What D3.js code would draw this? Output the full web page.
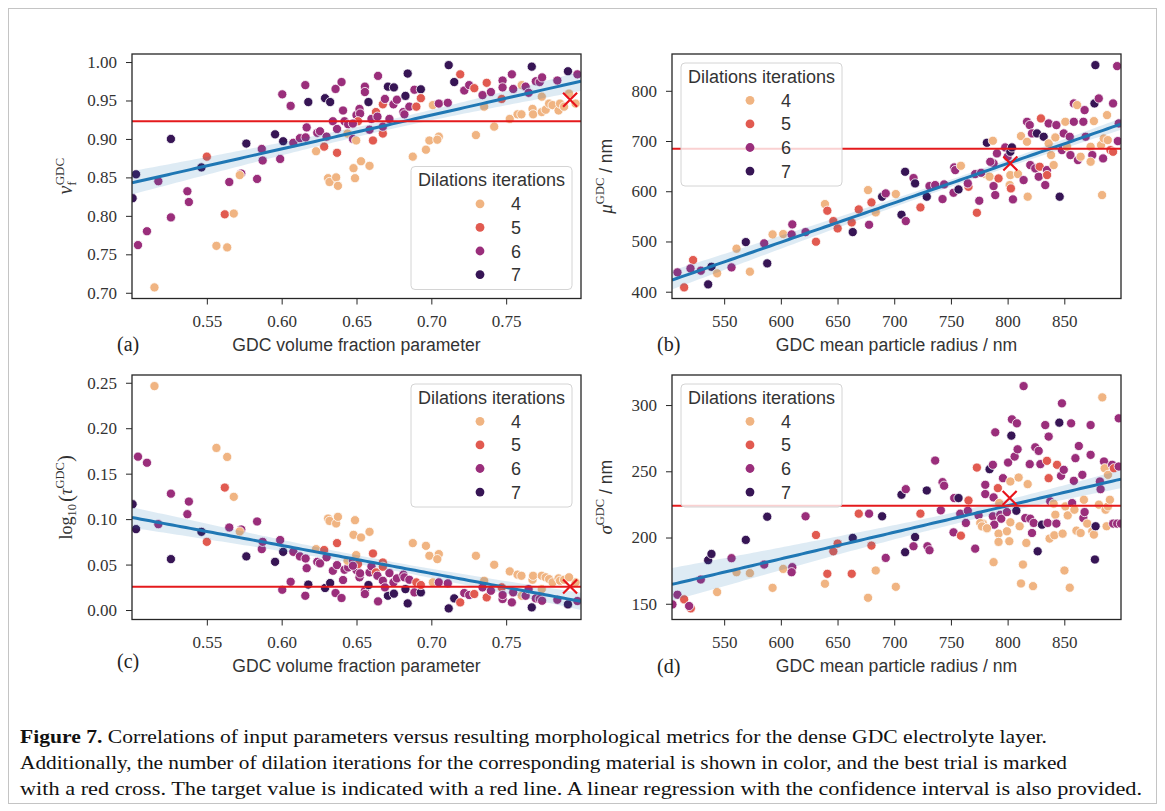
<!DOCTYPE html>
<html>
<head>
<meta charset="utf-8">
<script src="https://cdn.jsdelivr.net/npm/d3@7"></script>
<style>
  body { margin: 0; background: #fff; }
  svg { display: block; }
  .tick text { font-family: "Liberation Serif", serif; font-size: 17px; fill: #333; }
  .tick line { stroke: #262626; stroke-width: 1; }
  .sans { font-family: "Liberation Sans", sans-serif; }
</style>
</head>
<body>
<svg id="fig" width="1165" height="811"></svg>
<script>
// ---- data ----
const iterations = [4, 5, 6, 7];
const iterColors = ["#f0b482", "#e15a50", "#9a2e7b", "#371555"];

// (a) volume fraction parameter vs v_f^GDC  [x, y, dilations]
const panelA = [
  [0.5027,0.854,7],[0.5004,0.823,7],[0.5176,0.845,6],[0.504,0.762,6],[0.510,0.780,6],[0.515,0.707,4],[0.526,0.900,7],[0.526,0.798,6],
  [0.537,0.832,6],[0.538,0.818,6],[0.5464,0.863,7],[0.550,0.877,5],[0.562,0.802,5],[0.568,0.803,4],[0.5564,0.761,4],[0.5636,0.759,4],
  [0.565,0.844,6],[0.573,0.855,6],[0.572,0.853,4],[0.5764,0.894,7],[0.5836,0.848,6],[0.5867,0.887,6],[0.5873,0.872,6],[0.5956,0.906,7],
  [0.599,0.874,6],[0.601,0.897,7],[0.6004,0.958,6],[0.606,0.943,6],[0.6078,0.895,6],[0.6122,0.901,6],[0.616,0.902,6],[0.6167,0.915,6],
  [0.6178,0.948,7],[0.6158,0.970,6],[0.623,0.884,4],[0.6238,0.908,6],[0.6256,0.910,6],[0.6284,0.890,5],[0.630,0.903,6],[0.629,0.953,7],
  [0.6324,0.948,7],[0.631,0.849,4],[0.632,0.844,4],[0.6364,0.850,4],[0.6376,0.839,4],[0.637,0.882,5],[0.636,0.965,6],[0.640,0.974,6],
  [0.6342,0.923,6],[0.637,0.913,6],[0.641,0.937,6],[0.642,0.923,6],[0.6444,0.919,6],[0.644,0.907,4],[0.6476,0.900,6],[0.6498,0.898,4],
  [0.648,0.862,4],[0.649,0.849,4],[0.653,0.871,4],[0.6587,0.865,4],[0.650,0.931,6],[0.652,0.939,6],[0.6524,0.933,6],[0.6556,0.968,6],
  [0.6556,0.961,6],[0.658,0.948,7],[0.651,0.923,5],[0.6476,0.920,6],[0.6587,0.912,6],[0.661,0.898,5],[0.660,0.926,6],[0.663,0.935,5],
  [0.664,0.929,6],[0.6644,0.982,6],[0.6676,0.945,5],[0.6676,0.907,5],[0.6676,0.916,6],[0.671,0.968,7],[0.675,0.967,7],[0.669,0.952,6],
  [0.6747,0.945,6],[0.672,0.926,6],[0.677,0.951,6],[0.6813,0.935,6],[0.682,0.932,6],[0.6842,0.985,7],[0.6827,0.956,7],[0.6853,0.942,6],
  [0.6876,0.877,4],[0.6887,0.964,6],[0.690,0.942,5],[0.693,0.9645,7],[0.693,0.953,5],[0.6964,0.886,4],[0.6987,0.898,4],[0.705,0.903,4],
  [0.704,0.899,4],[0.701,0.944,4],[0.705,0.946,6],[0.711,0.947,6],[0.7116,0.996,7],[0.7153,0.974,7],[0.7193,0.984,5],[0.722,0.963,6],
  [0.7253,0.970,6],[0.7287,0.966,5],[0.7298,0.905,4],[0.7353,0.942,4],[0.7342,0.957,6],[0.737,0.973,5],[0.7398,0.961,6],[0.742,0.916,4],
  [0.747,0.952,5],[0.7476,0.976,6],[0.7476,0.967,6],[0.7538,0.984,6],[0.7547,0.965,6],[0.7524,0.926,4],[0.7576,0.932,4],[0.7602,0.932,4],
  [0.7604,0.970,4],[0.763,0.968,6],[0.765,0.960,6],[0.7671,0.994,7],[0.7676,0.939,4],[0.768,0.932,4],[0.7698,0.975,6],[0.7724,0.974,6],
  [0.774,0.980,6],[0.7738,0.955,4],[0.7738,0.935,4],[0.7764,0.938,4],[0.7787,0.946,4],[0.781,0.944,4],[0.7842,0.976,6],[0.785,0.937,4],
  [0.786,0.946,4],[0.7887,0.942,4],[0.7913,0.988,7],[0.7976,0.984,6],[0.7964,0.946,4],[0.792,0.959,4]
];

// (b) mean particle radius vs mu^GDC
const panelB = [
  [508.8,438.5,6],[514.7,408.6,5],[522.6,463.0,5],[520.3,446.4,6],[529.4,441.8,6],[535.9,414.6,7],[538.8,449.7,7],[543.8,436.5,4],
  [556.5,448.4,6],[560.9,485.6,4],[569.1,498.8,7],[572.7,439.8,4],[585.3,496.2,6],[588.0,456.4,7],[592.7,514.1,4],[602.1,514.8,4],
  [610.1,534.0,6],[609.5,514.1,6],[621.8,518.7,6],[631.0,499.5,5],[638.9,574.5,4],[641.0,561.2,5],[646.3,540.6,5],[650.1,526.0,5],
  [662.5,537.9,5],[663.4,518.7,7],[668.7,563.8,5],[676.9,602.3,4],[677.8,533.3,6],[679.9,577.8,5],[683.7,557.9,4],[689.3,589.1,7],
  [692.5,595.7,6],[701.4,594.4,4],[706.4,553.2,7],[709.6,638.8,7],[710.2,540.6,6],[717.0,626.2,6],[718.4,615.6,7],[723.1,567.8,5],
  [728.7,589.1,7],[731.1,610.3,6],[736.1,612.3,6],[742.6,584.4,6],[744.0,613.6,6],[752.3,597.0,6],[752.9,647.4,6],[753.8,642.1,6],
  [756.7,603.6,7],[758.8,650.7,4],[765.5,608.9,5],[764.9,615.6,6],[772.9,557.2,5],[775.0,581.1,6],[771.4,634.2,6],[781.7,696.5,7],
  [787.0,700.5,4],[780.3,634.2,4],[784.1,628.9,4],[787.6,610.3,6],[789.1,592.4,6],[792.0,625.5,5],[787.6,655.4,6],[790.6,675.3,6],
  [797.9,687.2,6],[800.0,668.7,6],[802.4,678.6,7],[803.8,687.2,7],[802.4,632.2,4],[801.8,612.3,4],[802.9,605.6,5],[804.7,583.8,6],
  [809.1,634.2,4],[814.1,622.2,6],[817.7,589.1,4],[811.8,709.8,4],[817.1,738.3,6],[819.5,731.7,6],[821.5,715.1,6],[817.1,698.5,4],
  [820.0,652.1,6],[824.4,645.4,6],[827.4,628.9,6],[828.3,648.8,5],[825.9,715.1,7],[829.4,744.9,5],[831.8,708.5,7],[833.2,612.3,6],
  [834.7,642.1,6],[836.2,735.0,6],[836.2,695.2,4],[838.3,672.0,4],[840.6,652.1,4],[843.0,731.7,6],[842.1,707.1,4],[845.9,589.1,7],
  [847.9,681.9,6],[849.5,715.1,6],[850.9,738.3,4],[852.4,688.6,4],[854.8,708.5,6],[855.4,672.0,6],[858.4,774.8,6],[861.3,771.5,4],
  [858.4,738.3,6],[862.0,662.0,6],[864.4,668.7,4],[866.8,738.3,6],[867.9,761.5,6],[868.8,708.5,6],[873.2,688.6,4],[874.7,672.0,6],
  [873.2,658.7,4],[876.1,739.6,4],[876.6,774.8,7],[877.4,851.1,7],[880.4,784.7,6],[882.4,691.9,4],[883.3,592.4,4],[884.2,665.3,6],
  [884.8,705.1,4],[887.7,751.6,4],[888.3,701.8,4],[890.7,681.9,5],[893.0,774.8,6],[896.6,849.1,6],[897.2,699.8,6],[898.0,735.0,6],
  [893.0,678.6,5],[776.6,636.8,6],[784.7,658.6,6],[834.8,632.2,5]
];

// (c) volume fraction parameter vs log10(tau^GDC)
const panelC = [
  [0.5027,0.089,7],[0.5004,0.1164,7],[0.5176,0.0944,6],[0.504,0.1687,6],[0.510,0.162,6],[0.515,0.2463,4],[0.526,0.056,7],[0.526,0.128,6],
  [0.537,0.1054,6],[0.538,0.1193,6],[0.5464,0.086,7],[0.550,0.075,5],[0.562,0.1347,5],[0.568,0.1245,4],[0.5564,0.1783,4],[0.5636,0.1684,4],
  [0.565,0.0908,6],[0.573,0.0886,6],[0.572,0.0864,4],[0.5764,0.059,7],[0.5836,0.0974,6],[0.5867,0.067,6],[0.5873,0.075,6],[0.5956,0.053,7],
  [0.599,0.077,6],[0.601,0.064,7],[0.6004,0.0223,6],[0.606,0.031,6],[0.6078,0.064,6],[0.6122,0.059,6],[0.616,0.0567,6],[0.6167,0.046,6],
  [0.6178,0.028,7],[0.6158,0.0157,6],[0.623,0.067,4],[0.6238,0.053,6],[0.6256,0.0513,6],[0.6284,0.066,5],[0.630,0.058,6],[0.629,0.0242,7],
  [0.6324,0.0297,7],[0.631,0.1006,4],[0.632,0.098,4],[0.6364,0.0952,4],[0.6376,0.1025,4],[0.637,0.0736,5],[0.636,0.0187,6],[0.640,0.0132,6],
  [0.6342,0.0432,6],[0.637,0.0494,6],[0.641,0.033,6],[0.642,0.0443,6],[0.6444,0.0468,6],[0.644,0.0542,4],[0.6476,0.0542,6],[0.6498,0.0604,4],
  [0.648,0.0827,4],[0.649,0.0988,4],[0.653,0.0798,4],[0.6587,0.086,4],[0.650,0.044,6],[0.652,0.036,6],[0.6524,0.0403,6],[0.6556,0.0212,6],
  [0.6556,0.0176,6],[0.658,0.0275,7],[0.651,0.0505,5],[0.6476,0.0487,6],[0.6587,0.0414,6],[0.661,0.0622,5],[0.660,0.048,6],[0.663,0.0414,5],
  [0.664,0.0377,6],[0.6644,0.0095,6],[0.6676,0.0523,5],[0.6676,0.0476,5],[0.6676,0.0322,6],[0.671,0.0157,7],[0.675,0.018,7],[0.669,0.0249,6],
  [0.6747,0.0304,6],[0.672,0.0406,6],[0.677,0.0348,6],[0.6813,0.0389,6],[0.682,0.036,6],[0.6842,0.0073,7],[0.6827,0.023,7],[0.6853,0.0333,6],
  [0.6876,0.0736,4],[0.6887,0.0194,6],[0.690,0.0304,5],[0.693,0.0194,7],[0.693,0.0275,5],[0.6964,0.0706,4],[0.6987,0.0597,4],[0.705,0.0615,4],
  [0.704,0.056,4],[0.701,0.0304,4],[0.705,0.0304,6],[0.711,0.0293,6],[0.7116,0.0018,7],[0.7153,0.0128,7],[0.7193,0.0084,5],[0.722,0.0187,6],
  [0.7253,0.0165,6],[0.7287,0.0176,5],[0.7298,0.0597,4],[0.7353,0.0322,4],[0.7342,0.0249,6],[0.737,0.0139,5],[0.7398,0.0212,6],[0.742,0.0498,4],
  [0.747,0.0249,5],[0.7476,0.0121,6],[0.7476,0.0165,6],[0.7538,0.0084,6],[0.7547,0.0194,6],[0.7524,0.0425,4],[0.7576,0.0389,4],[0.7602,0.0377,4],
  [0.7604,0.0157,4],[0.763,0.0157,6],[0.765,0.023,6],[0.7671,0.0029,7],[0.7676,0.0333,4],[0.768,0.0377,4],[0.7698,0.0128,6],[0.7724,0.0121,6],
  [0.774,0.0102,6],[0.7738,0.023,4],[0.7738,0.0377,4],[0.7764,0.036,4],[0.7787,0.034,4],[0.781,0.0304,4],[0.7842,0.0113,6],[0.785,0.0348,4],
  [0.786,0.0322,4],[0.7887,0.0333,4],[0.7913,0.0062,7],[0.7976,0.0099,6],[0.7964,0.0304,4],[0.792,0.036,4]
];

// (d) mean particle radius vs sigma^GDC
const panelD = [
  [504.4,149.5,6],[508.8,156.8,6],[514.7,153.3,5],[520.6,146.5,5],[519.1,148.3,6],[529.4,168.3,6],[535.9,182.9,7],[538.8,187.6,7],
  [543.8,158.8,4],[556.5,184.4,6],[560.9,173.8,4],[569.1,198.2,7],[572.7,173.1,4],[585.3,179.6,6],[588.0,215.7,7],[592.7,162.0,4],
  [602.1,176.3,4],[610.1,177.6,6],[609.5,173.8,6],[621.8,216.0,6],[631.0,201.9,5],[638.9,165.1,4],[641.0,172.6,5],[646.3,189.6,5],
  [650.1,195.4,5],[662.5,172.6,5],[663.4,199.7,7],[668.7,218.0,5],[676.9,154.5,4],[677.8,218.0,6],[679.9,193.9,5],[683.7,175.1,4],
  [689.3,216.0,7],[692.5,184.6,6],[701.4,162.8,4],[706.4,232.3,7],[709.6,188.9,7],[710.2,236.5,6],[717.0,193.4,6],[718.4,200.4,7],
  [723.1,218.0,5],[728.7,235.5,7],[729.3,193.4,6],[731.1,190.4,6],[736.1,258.1,6],[742.6,241.8,6],[744.0,239.1,6],[741.1,220.5,6],
  [752.3,203.9,6],[752.9,229.8,6],[756.7,229.8,7],[758.8,201.4,5],[758.2,218.0,6],[765.5,228.0,5],[764.9,220.2,6],[763.2,211.0,6],
  [772.9,252.8,5],[771.4,191.6,6],[774.4,216.7,6],[784.1,251.6,7],[787.0,254.9,6],[789.1,279.4,6],[780.3,239.8,6],[780.3,232.8,6],
  [778.2,210.5,4],[781.7,206.7,4],[787.6,181.4,4],[787.6,230.3,6],[787.0,216.0,6],[788.2,209.7,6],[791.4,237.3,5],[792.6,226.0,4],
  [793.5,217.2,6],[792.0,202.9,4],[792.0,196.7,4],[794.4,214.2,6],[795.9,244.8,6],[799.4,219.2,6],[799.4,204.7,4],[800.4,256.6,6],
  [801.5,197.2,4],[802.4,211.5,4],[803.3,276.9,7],[803.8,289.2,6],[802.4,242.3,4],[806.2,261.1,6],[807.7,220.2,7],[808.8,266.6,6],
  [808.2,286.2,6],[809.7,245.3,4],[810.6,208.5,4],[811.8,165.3,4],[813.5,179.6,4],[814.1,314.3,6],[815.6,214.7,6],[816.5,195.9,4],
  [817.7,240.3,4],[819.5,255.4,6],[820.0,214.2,6],[821.5,203.4,6],[822.4,163.3,4],[823.0,211.0,6],[824.4,268.1,6],[826.5,189.6,7],
  [827.4,265.4,6],[828.9,255.4,6],[830.3,209.7,7],[833.2,284.9,6],[834.7,257.9,5],[836.2,276.2,6],[836.2,244.8,5],[835.3,211.0,6],
  [837.0,199.2,4],[837.6,227.3,6],[840.6,225.5,4],[841.2,201.7,4],[842.1,217.2,4],[843.0,210.5,6],[843.6,254.9,5],[847.1,246.6,6],
  [845.6,286.7,7],[847.9,301.3,6],[848.5,202.9,4],[849.5,251.1,6],[850.1,175.1,4],[850.9,223.5,4],[853.0,216.7,4],[854.8,162.1,4],
  [856.0,286.2,6],[856.9,226.0,6],[858.4,242.8,6],[858.9,221.0,4],[859.8,259.9,6],[860.7,205.2,4],[862.8,269.1,6],[864.4,203.4,4],
  [865.9,247.3,6],[866.8,214.7,6],[867.3,228.5,4],[867.9,219.2,6],[870.2,210.5,4],[873.2,284.9,6],[873.2,262.4,6],[874.7,204.7,4],
  [876.1,202.2,4],[877.0,183.4,7],[877.6,208.5,7],[880.5,224.8,4],[881.4,242.3,6],[882.0,236.5,6],[883.5,305.8,4],[885.0,257.4,6],
  [885.6,252.3,4],[886.4,221.0,4],[887.3,208.5,4],[888.5,223.5,4],[888.5,247.3,4],[890.2,228.5,4],[892.2,254.9,6],[893.7,252.3,5],
  [893.1,210.5,6],[896.6,210.5,6],[898.0,290.0,6],[898.0,253.6,6],[900.0,210.5,6],[775.9,210.9,4],[777.4,208.4,4],[781.8,207.0,4]
];

// best trial (red cross) and target value (red line)
const bestA = [0.7927, 0.951], bestB = [802.4, 655.4], bestC = [0.7927, 0.0258], bestD = [801.8, 229.8];
const targetA = 0.923, targetB = 684.6, targetC = 0.0256, targetD = 224.0;

// fitted regression line, value at the left and right end of the x range
const regA = [0.843, 0.975], regB = [423.2, 733.7], regC = [0.1018, 0.0095], regD = [164.6, 244.1];

const fracTicks = [0.55, 0.60, 0.65, 0.70, 0.75];
const radiusTicks = [550, 600, 650, 700, 750, 800, 850];
const yTicksA = [0.70, 0.75, 0.80, 0.85, 0.90, 0.95, 1.00];
const yTicksB = [400, 500, 600, 700, 800];
const yTicksC = [0.00, 0.05, 0.10, 0.15, 0.20, 0.25];
const yTicksD = [150, 200, 250, 300];

const captionLines = [
  "Correlations of input parameters versus resulting morphological metrics for the dense GDC electrolyte layer.",
  "Additionally, the number of dilation iterations for the corresponding material is shown in color, and the best trial is marked",
  "with a red cross. The target value is indicated with a red line. A linear regression with the confidence interval is also provided."
];

// ---- layout ----
const W = 449, H = 244.5;
const svg = d3.select("#fig");
const color = d3.scaleOrdinal().domain(iterations).range(iterColors);

svg.append("rect").attr("x", 8.5).attr("y", 8.5).attr("width", 1148).attr("height", 795)
  .attr("fill", "none").attr("stroke", "#c4c4c4");

const panels = [
  { id: "a", data: panelA, best: bestA, target: targetA, reg: regA, left: 132, top: 54, xDomain: [0.5, 0.8],
    xTicks: fracTicks, yTicks: yTicksA, fmt: d3.format(".2f"), xLabel: "GDC volume fraction parameter",
    legend: "br", letterY: 351 },
  { id: "b", data: panelB, best: bestB, target: targetB, reg: regB, left: 672, top: 54, xDomain: [504, 900],
    xTicks: radiusTicks, yTicks: yTicksB, fmt: d3.format("d"), xLabel: "GDC mean particle radius / nm",
    legend: "tl", letterY: 351 },
  { id: "c", data: panelC, best: bestC, target: targetC, reg: regC, left: 132, top: 375, xDomain: [0.5, 0.8],
    xTicks: fracTicks, yTicks: yTicksC, fmt: d3.format(".2f"), xLabel: "GDC volume fraction parameter",
    legend: "tr", letterY: 668 },
  { id: "d", data: panelD, best: bestD, target: targetD, reg: regD, left: 672, top: 375, xDomain: [504, 900],
    xTicks: radiusTicks, yTicks: yTicksD, fmt: d3.format("d"), xLabel: "GDC mean particle radius / nm",
    legend: "tl", letterY: 673 }
];

// 95% confidence half-width of the fitted mean, from the scatter of the points around the line
function confidence(pts, fit) {
  const n = pts.length;
  const mx = d3.mean(pts, p => p[0]);
  const sxx = d3.sum(pts, p => (p[0] - mx) ** 2);
  const sse = d3.sum(pts, p => (p[1] - fit(p[0])) ** 2);
  const s = Math.sqrt(sse / (n - 2));
  return x => 1.97 * s * Math.sqrt(1 / n + (x - mx) ** 2 / sxx);
}

function yLabel(t, id) {
  const serif = "Liberation Serif";
  if (id === "a") {
    t.append("tspan").attr("font-family", serif).attr("font-style", "italic").attr("font-size", 20).text("v");
    t.append("tspan").attr("font-family", serif).attr("font-size", 13).attr("dy", 4).text("f");
    t.append("tspan").attr("font-family", serif).attr("font-size", 13).attr("dx", -4).attr("dy", -12).text("GDC");
  } else if (id === "c") {
    t.append("tspan").attr("font-family", serif).attr("font-size", 18).text("log");
    t.append("tspan").attr("font-family", serif).attr("font-size", 12.5).attr("dy", 4).text("10");
    t.append("tspan").attr("font-family", serif).attr("font-size", 21).attr("dx", 2).attr("dy", -3).text("(");
    t.append("tspan").attr("font-family", serif).attr("font-style", "italic").attr("font-size", 18).attr("dy", -1).text("τ");
    t.append("tspan").attr("font-family", serif).attr("font-size", 12.5).attr("dy", -8).text("GDC");
    t.append("tspan").attr("font-family", serif).attr("font-size", 21).attr("dy", 8).text(")");
  } else {
    t.append("tspan").attr("font-family", serif).attr("font-style", "italic").attr("font-size", 19).text(id === "b" ? "μ" : "σ");
    t.append("tspan").attr("font-family", serif).attr("font-size", 12.5).attr("dy", -8).text("GDC");
    t.append("tspan").attr("class", "sans").attr("font-size", 17.5).attr("dy", 8).text(" / nm");
  }
}

function drawLegend(g, lx, ly) {
  const lg = g.append("g").attr("transform", `translate(${lx},${ly})`);
  lg.append("rect").attr("width", 161).attr("height", 123).attr("rx", 4)
    .attr("fill", "white").attr("fill-opacity", 0.8).attr("stroke", "#d4d4d4");
  lg.append("text").attr("class", "sans").attr("x", 80.5).attr("y", 19.5).attr("text-anchor", "middle")
    .attr("font-size", 18).attr("fill", "#333").text("Dilations iterations");
  const rows = lg.selectAll("g.row").data(iterations).join("g")
    .attr("transform", (d, i) => `translate(0,${37.3 + i * 23.6})`);
  rows.append("circle").attr("cx", 69).attr("r", 4.4).attr("fill", d => color(d));
  rows.append("text").attr("class", "sans").attr("x", 100).attr("y", 6.5)
    .attr("font-size", 18).attr("fill", "#333").text(d => d);
}

panels.forEach(p => {
  const g = svg.append("g").attr("transform", `translate(${p.left},${p.top})`);
  const x = d3.scaleLinear().domain(p.xDomain).range([0, W]);
  const [ymin, ymax] = d3.extent(p.data, d => d[1]);
  const pad = (ymax - ymin) * 0.05;
  const y = d3.scaleLinear().domain([ymin - pad, ymax + pad]).range([H, 0]);

  g.append("clipPath").attr("id", "clip-" + p.id)
    .append("rect").attr("width", W).attr("height", H);
  const plot = g.append("g").attr("clip-path", `url(#clip-${p.id})`);

  // scatter
  plot.selectAll("circle.pt").data(p.data).join("circle").attr("class", "pt")
    .attr("cx", d => x(d[0])).attr("cy", d => y(d[1])).attr("r", 4.6)
    .attr("fill", d => color(d[2])).attr("stroke", "white").attr("stroke-width", 0.8);

  // linear regression with 95% confidence band
  const fit = d3.scaleLinear().domain(p.xDomain).range(p.reg);
  const half = confidence(p.data, fit);
  const xs = d3.range(0, 101).map(i => p.xDomain[0] + (p.xDomain[1] - p.xDomain[0]) * i / 100);
  const band = xs.map(v => ({ x: v, m: fit(v), h: half(v) }));
  plot.append("path").datum(band)
    .attr("d", d3.area().x(d => x(d.x)).y0(d => y(d.m - d.h)).y1(d => y(d.m + d.h)))
    .attr("fill", "#1f77b4").attr("fill-opacity", 0.15);
  plot.append("path").datum(band)
    .attr("d", d3.line().x(d => x(d.x)).y(d => y(d.m)))
    .attr("fill", "none").attr("stroke", "#1f77b4").attr("stroke-width", 3);

  // target line and best trial
  plot.append("line").attr("x1", 0).attr("x2", W).attr("y1", y(p.target)).attr("y2", y(p.target))
    .attr("stroke", "#e41a1c").attr("stroke-width", 2);
  const cx = x(p.best[0]), cy = y(p.best[1]), s = 7;
  plot.append("path").attr("d", `M${cx - s},${cy - s}L${cx + s},${cy + s}M${cx - s},${cy + s}L${cx + s},${cy - s}`)
    .attr("stroke", "#e8141c").attr("stroke-width", 2.2).attr("fill", "none");

  // axes
  g.append("g").attr("transform", `translate(0,${H})`)
    .call(d3.axisBottom(x).tickValues(p.xTicks).tickFormat(p.fmt).tickSize(6).tickPadding(10))
    .call(a => a.select(".domain").remove());
  g.append("g")
    .call(d3.axisLeft(y).tickValues(p.yTicks).tickFormat(p.fmt).tickSize(6).tickPadding(9))
    .call(a => a.select(".domain").remove());
  g.append("rect").attr("width", W).attr("height", H).attr("fill", "none")
    .attr("stroke", "#262626").attr("stroke-width", 1.3);

  // labels
  g.append("text").attr("class", "sans").attr("x", W / 2).attr("y", H + 52).attr("text-anchor", "middle")
    .attr("font-size", 17.6).attr("fill", "#333").text(p.xLabel);
  yLabel(g.append("text").attr("transform", `translate(-60,${H / 2}) rotate(-90)`)
    .attr("text-anchor", "middle").attr("fill", "#333"), p.id);
  svg.append("text").attr("x", p.left - 15).attr("y", p.letterY)
    .attr("font-family", "Liberation Serif").attr("font-size", 20).attr("fill", "#222").text(`(${p.id})`);

  // legend
  const lw = 161, lh = 123, inset = 9;
  const lx = p.legend === "tl" ? inset : W - inset - lw;
  const ly = p.legend === "br" ? H - inset - lh : inset;
  drawLegend(g, lx, ly);
});

// caption
const capWidths = [1027, 1047, 1122];
captionLines.forEach((line, i) => {
  const t = svg.append("text").attr("x", 20).attr("y", 743 + i * 26)
    .attr("font-family", "Liberation Serif").attr("font-size", 19.5).attr("fill", "#111")
    .attr("textLength", capWidths[i]).attr("lengthAdjust", "spacingAndGlyphs");
  if (i === 0) t.append("tspan").attr("font-weight", "bold").text("Figure 7. ");
  t.append("tspan").text(line);
});
</script>
</body>
</html>
